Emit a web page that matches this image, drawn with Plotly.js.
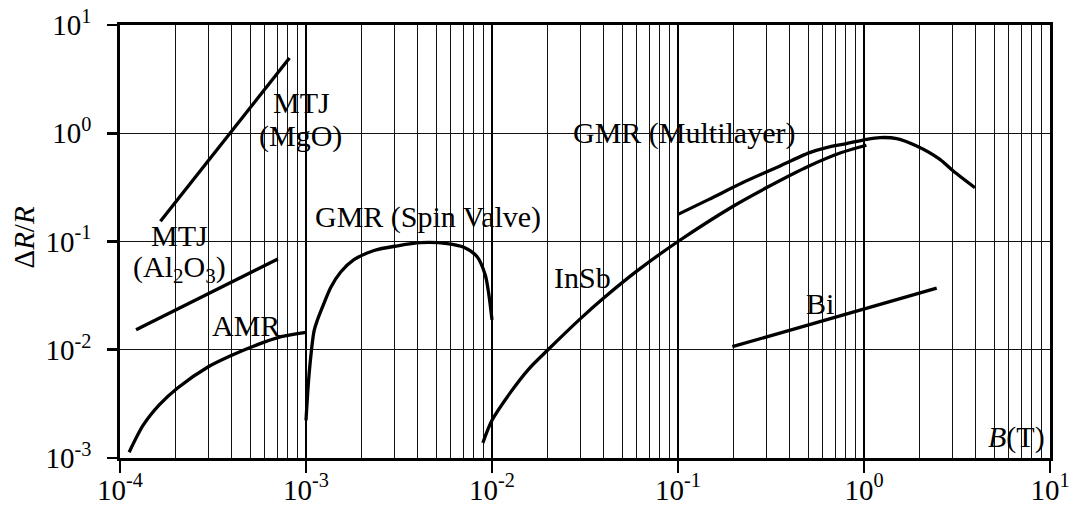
<!DOCTYPE html>
<html>
<head>
<meta charset="utf-8">
<script src="https://cdn.plot.ly/plotly-3.0.1.min.js"></script>
<style>html,body{margin:0;padding:0;background:#fff;}#chart{width:1074px;height:506px;}</style>
</head>
<body>
<div id="chart"></div>
<script>
// ---- data (B in tesla, ΔR/R) ----
const amrX = [1.12e-4, 1.33e-4, 1.63e-4, 2.04e-4, 3.0e-4, 3.99e-4, 5.53e-4, 7.35e-4, 1.0e-3];
const amrY = [1.13e-3, 2.0e-3, 3.11e-3, 4.43e-3, 7.0e-3, 8.9e-3, 0.0112, 0.0132, 0.0145];

const mtjAlX = [1.22e-4, 7.06e-4];
const mtjAlY = [0.0153, 0.0689];

const mtjMgoX = [1.65e-4, 8.15e-4];
const mtjMgoY = [0.154, 4.96];

const spinX = [1.0e-3, 1.04e-3, 1.106e-3, 1.153e-3, 1.252e-3, 1.358e-3, 1.537e-3, 1.81e-3, 2.32e-3, 3.1e-3, 4.13e-3, 5.74e-3, 7.05e-3, 8.3e-3, 9.2e-3, 9.6e-3, 1.0e-2];
const spinY = [2.23e-3, 6.05e-3, 0.0150, 0.0189, 0.0271, 0.0376, 0.0522, 0.0679, 0.0826, 0.0912, 0.0975, 0.0957, 0.0884, 0.0726, 0.049, 0.033, 0.0189];

const insbX = [8.93e-3, 0.01, 0.0126, 0.0158, 0.02, 0.03, 0.04, 0.06, 0.1, 0.2, 0.3, 0.5, 0.75, 1.03];
const insbY = [1.38e-3, 2.23e-3, 4.06e-3, 6.67e-3, 0.01, 0.0195, 0.0302, 0.0532, 0.1, 0.214, 0.315, 0.493, 0.66, 0.775];

const mlX = [0.1, 0.1467, 0.222, 0.337, 0.510, 0.628, 0.807, 1.034, 1.219, 1.499, 1.92, 2.56, 3.02, 3.95];
const mlY = [0.178, 0.245, 0.349, 0.481, 0.662, 0.737, 0.803, 0.879, 0.912, 0.893, 0.762, 0.574, 0.448, 0.314];

const biX = [0.196, 2.46];
const biY = [0.01067, 0.0371];

// ---- tick labels ----
const xTickVals = [1e-4, 1e-3, 1e-2, 1e-1, 1e0, 1e1];
const xTickText = ["10<sup>-4</sup>", "10<sup>-3</sup>", "10<sup>-2</sup>", "10<sup>-1</sup>", "10<sup>0</sup>", "10<sup>1</sup>"];
const yTickVals = [1e-3, 1e-2, 1e-1, 1e0, 1e1];
const yTickText = ["10<sup>-3</sup>", "10<sup>-2</sup>", "10<sup>-1</sup>", "10<sup>0</sup>", "10<sup>1</sup>"];

// ---- curve labels (text, centre in px) ----
const labels = [
  {text: "MTJ", px: 301.7, py: 102},
  {text: "(MgO)", px: 300.5, py: 135.5},
  {text: "MTJ", px: 179, py: 235},
  {text: "(Al<sub>2</sub>O<sub>3</sub>)", px: 179, py: 269},
  {text: "AMR", px: 245.8, py: 325},
  {text: "GMR (Spin Valve)", px: 428.3, py: 216.7},
  {text: "InSb", px: 582, py: 277},
  {text: "GMR (Multilayer)", px: 684, py: 133.3},
  {text: "Bi", px: 820.3, py: 303},
  {text: "<i>B</i>(T)", px: 1016.3, py: 436.7}
];
// white boxes behind labels (hide grid, not curves): [x0, x1, y0, y1] px
const labelBoxes = [
  [256, 345, 90, 153],
  [130, 228, 222, 285],
  [209, 282, 312, 341],
  [313, 544, 197, 234],
  [552, 612, 260, 295],
  [570, 798, 114, 151],
  [805, 837, 285, 320],
  [985, 1047, 417, 453]
];

// minor grid positions (2..9 within each decade)
const minorX = [];
for (let k = -4; k <= 0; k++) for (let m = 2; m <= 9; m++) minorX.push(m * Math.pow(10, k));

const W = 1074, H = 506;
const M = {l: 120, r: 24, t: 25, b: 48};
const PW = W - M.l - M.r, PH = H - M.t - M.b;
const FONT = "Liberation Serif, Times New Roman, serif";
const px2x = p => (p - M.l) / PW;
const py2y = p => (H - M.b - p) / PH;

const line = {color: "#000", width: 3.3};
const series = [[amrX, amrY], [mtjAlX, mtjAlY], [mtjMgoX, mtjMgoY], [spinX, spinY], [insbX, insbY], [mlX, mlY], [biX, biY]];
const traces = series.map(s => ({x: s[0], y: s[1], type: "scatter", mode: "lines", line: Object.assign({shape: "spline", smoothing: 0.8}, line), hoverinfo: "skip"}));

const annotations = labels.map(l => ({
  xref: "paper", yref: "paper",
  x: px2x(l.px), y: py2y(l.py),
  xanchor: "center", yanchor: "middle",
  text: l.text, showarrow: false,
  font: {family: FONT, size: 30, color: "#000"}
}));
annotations.push({
  xref: "paper", yref: "paper",
  x: px2x(23), y: py2y(237.5),
  xanchor: "center", yanchor: "middle", textangle: -90,
  text: "Δ<i>R</i>/<i>R</i>", showarrow: false,
  font: {family: FONT, size: 29, color: "#000"}
});

const shapes = labelBoxes.map(b => ({
  type: "rect", xref: "paper", yref: "paper", layer: "between",
  x0: px2x(b[0]), x1: px2x(b[1]), y0: py2y(b[3]), y1: py2y(b[2]),
  fillcolor: "#fff", line: {width: 0}
}));

const layout = {
  width: W, height: H,
  margin: M,
  paper_bgcolor: "#fff", plot_bgcolor: "#fff",
  showlegend: false,
  xaxis: {
    type: "log", range: [-4, 1], autorange: false,
    tickmode: "array", tickvals: xTickVals, ticktext: xTickText,
    ticks: "outside", ticklen: 12, tickwidth: 2.7, tickcolor: "#000",
    ticklabelstandoff: -8,
    tickfont: {family: FONT, size: 29, color: "#000"},
    showgrid: true, gridcolor: "#000", gridwidth: 2.8,
    showline: true, linecolor: "#000", linewidth: 2.7, mirror: true,
    zeroline: false,
    minor: {tickmode: "array", tickvals: minorX, showgrid: true, gridcolor: "#111", gridwidth: 1, ticks: ""}
  },
  yaxis: {
    type: "log", range: [-3, 1], autorange: false,
    tickmode: "array", tickvals: yTickVals, ticktext: yTickText,
    ticks: "outside", ticklen: 10, tickwidth: 2.7, tickcolor: "#000",
    ticklabelstandoff: 10,
    tickfont: {family: FONT, size: 29, color: "#000"},
    showgrid: true, gridcolor: "#111", gridwidth: 1,
    showline: true, linecolor: "#000", linewidth: 2.7, mirror: true,
    zeroline: false
  },
  shapes: shapes,
  annotations: annotations
};

Plotly.newPlot("chart", traces, layout, {staticPlot: true, displayModeBar: false});
</script>
</body>
</html>
